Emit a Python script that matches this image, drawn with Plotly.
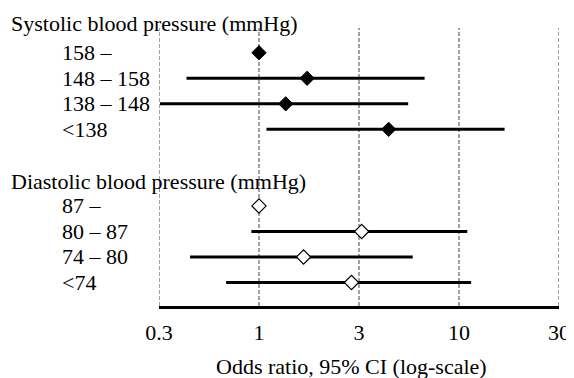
import plotly.graph_objects as go

# ---- data ----
groups = ["Systolic blood pressure (mmHg)", "Diastolic blood pressure (mmHg)"]
sys_labels = ["158 \u2013", "148 \u2013 158", "138 \u2013 148", "<138"]
sys_or = [1.0, 1.74, 1.36, 4.45]
sys_lo = [None, 0.434, 0.32, 1.09]
sys_hi = [None, 6.73, 5.57, 16.9]

dia_labels = ["87 \u2013", "80 \u2013 87", "74 \u2013 80", "<74"]
dia_or = [1.0, 3.26, 1.67, 2.90]
dia_lo = [None, 0.916, 0.452, 0.685]
dia_hi = [None, 11.0, 5.87, 11.5]

tick_vals = [10 ** -0.5, 1, 10 ** 0.5, 10, 10 ** 1.5]
tick_text = ["0.3", "1", "3", "10", "30"]

# row positions (category index, top to bottom)
sys_rows = [0, 1, 2, 3]
dia_rows = [6, 7, 8, 9]

FONT = "Liberation Serif"
FS = 22
Y0, Y1 = 9.92, -0.97  # reversed y range


def seg(lo, hi, rows):
    xs, ys = [], []
    for a, b, r in zip(lo, hi, rows):
        if a is None:
            continue
        xs += [a, b, None]
        ys += [r, r, None]
    return xs, ys


def row_to_paper(r):
    return (Y0 - r) / (Y0 - Y1)


fig = go.Figure()

sx, sy = seg(sys_lo, sys_hi, sys_rows)
dx, dy = seg(dia_lo, dia_hi, dia_rows)
fig.add_trace(go.Scatter(x=sx + dx, y=sy + dy, mode="lines",
                         line=dict(color="black", width=3), hoverinfo="skip"))
fig.add_trace(go.Scatter(x=sys_or, y=sys_rows, mode="markers",
                         marker=dict(symbol="diamond", size=11, color="black",
                                     line=dict(color="black", width=1))))
fig.add_trace(go.Scatter(x=dia_or, y=dia_rows, mode="markers",
                         marker=dict(symbol="diamond", size=11, color="white",
                                     line=dict(color="black", width=1.2))))

# dashed reference lines at ticks
for tv in tick_vals:
    fig.add_shape(type="line", xref="x", yref="paper", x0=tv, x1=tv, y0=0, y1=1,
                  line=dict(color="#444444", width=1, dash="4px,2px"), layer="below")

# group titles
for g, r in zip(groups, [-1.15, 5.03]):
    fig.add_annotation(text=g, xref="paper", yref="paper", x=-0.374, y=row_to_paper(r),
                       xanchor="left", yanchor="middle", showarrow=False,
                       font=dict(family=FONT, size=FS, color="black"))
# row labels
for labs, rows in ((sys_labels, sys_rows), (dia_labels, dia_rows)):
    for t, r in zip(labs, rows):
        fig.add_annotation(text=t, xref="paper", yref="paper", x=-0.248, y=row_to_paper(r),
                           xanchor="left", yanchor="middle", showarrow=False,
                           font=dict(family=FONT, size=FS, color="black"))

fig.add_annotation(text="Odds ratio, 95% CI (log-scale)", xref="paper", yref="paper",
                   x=0.482, y=-0.218, xanchor="center", yanchor="middle", showarrow=False,
                   font=dict(family=FONT, size=FS, color="black"))

fig.update_layout(
    width=574, height=378,
    margin=dict(l=151, r=23, t=20, b=80),
    paper_bgcolor="white", plot_bgcolor="white",
    showlegend=False,
    font=dict(family=FONT, size=FS, color="black"),
    xaxis=dict(type="log", range=[-0.5, 1.5], tickvals=tick_vals, ticktext=tick_text,
               showgrid=False, zeroline=False, showline=True, linecolor="black",
               linewidth=3, ticks="", ticklabelstandoff=5, automargin=False,
               tickfont=dict(family=FONT, size=FS, color="black")),
    yaxis=dict(range=[Y0, Y1], visible=False, showgrid=False, zeroline=False),
)

fig.write_html("out.html")
